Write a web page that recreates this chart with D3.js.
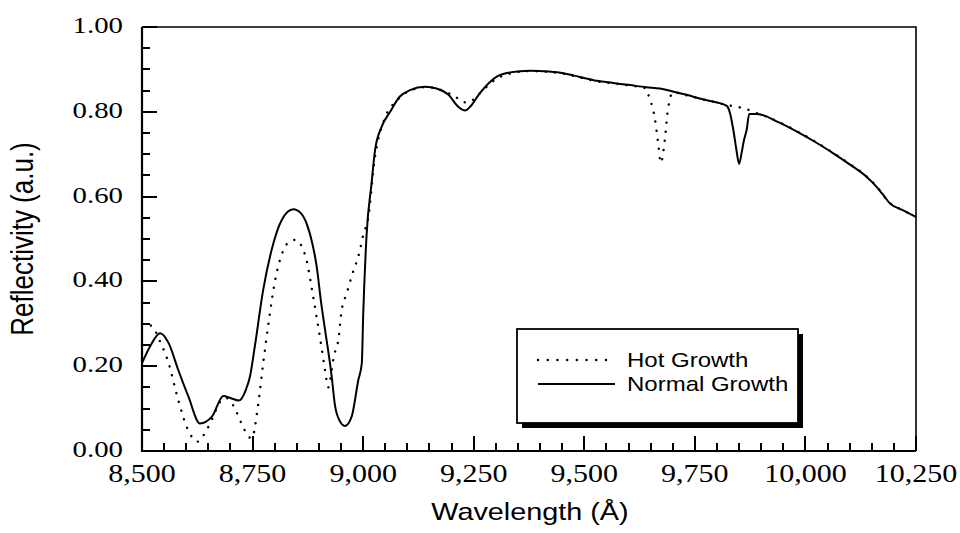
<!DOCTYPE html>
<html>
<head>
<meta charset="utf-8">
<script src="https://cdn.jsdelivr.net/npm/d3@7"></script>
<style>
  body { margin: 0; background: #fff; }
  svg { display: block; }
</style>
</head>
<body>
<svg id="chart" width="960" height="533"></svg>
<script>
// Reflectivity spectra, hot vs normal growth

const normalWl = [8500, 8520, 8541, 8560, 8582, 8605, 8631, 8658, 8684, 8700, 8719, 8735, 8744, 8755,
  8774, 8793, 8816, 8842, 8860, 8872, 8885, 8895, 8905, 8914, 8929, 8936, 8945, 8959, 8974, 8989,
  8997, 9000, 9008, 9019, 9027, 9042, 9061, 9083, 9106, 9140, 9166, 9193, 9215, 9230, 9242, 9264,
  9302, 9332, 9377, 9420, 9453, 9490, 9528, 9565, 9603, 9640, 9671, 9700, 9731, 9770, 9800, 9822,
  9830, 9837, 9844, 9850, 9856, 9861, 9867, 9873, 9890, 9940, 9988, 10025, 10063, 10100, 10138,
  10161, 10175, 10191, 10220, 10250];
const normalR = [0.207, 0.250, 0.278, 0.255, 0.191, 0.128, 0.065, 0.081, 0.130, 0.125, 0.119, 0.145, 0.175, 0.246,
  0.380, 0.474, 0.545, 0.570, 0.560, 0.537, 0.490, 0.435, 0.350, 0.285, 0.175, 0.110, 0.075, 0.059, 0.081, 0.167,
  0.207, 0.317, 0.513, 0.631, 0.710, 0.765, 0.800, 0.836, 0.851, 0.859, 0.855, 0.840, 0.812, 0.803, 0.812, 0.844,
  0.883, 0.893, 0.897, 0.895, 0.891, 0.882, 0.873, 0.868, 0.863, 0.858, 0.855, 0.848, 0.840, 0.829, 0.822, 0.814,
  0.795, 0.757, 0.710, 0.677, 0.705, 0.733, 0.757, 0.795, 0.795, 0.775, 0.749, 0.727, 0.702, 0.676, 0.647,
  0.623, 0.605, 0.584, 0.568, 0.552];

const hotWl = [8500, 8522, 8540, 8559, 8582, 8601, 8615, 8626, 8642, 8661, 8676, 8690, 8706, 8725, 8740,
  8748, 8763, 8774, 8786, 8801, 8820, 8835, 8848, 8860, 8872, 8887, 8902, 8914, 8921, 8926, 8933,
  8945, 8951, 8963, 8976, 8991, 9000, 9012, 9025, 9049, 9075, 9106, 9140, 9166, 9190, 9204, 9223,
  9235, 9248, 9270, 9302, 9332, 9377, 9420, 9453, 9490, 9528, 9565, 9603, 9640, 9645, 9660, 9667,
  9673, 9682, 9688, 9695, 9700, 9731, 9770, 9800, 9822, 9845, 9867, 9890, 9940, 9988, 10025, 10063,
  10100, 10138, 10161, 10191, 10220, 10250];
const hotR = [0.300, 0.295, 0.260, 0.211, 0.120, 0.057, 0.030, 0.022, 0.042, 0.081, 0.115, 0.125, 0.108, 0.065, 0.035,
  0.030, 0.112, 0.207, 0.301, 0.403, 0.474, 0.495, 0.498, 0.485, 0.450, 0.364, 0.270, 0.190, 0.150, 0.170, 0.219,
  0.270, 0.329, 0.372, 0.419, 0.466, 0.509, 0.553, 0.680, 0.785, 0.825, 0.850, 0.858, 0.855, 0.845, 0.840, 0.824,
  0.822, 0.828, 0.850, 0.878, 0.890, 0.896, 0.894, 0.890, 0.881, 0.872, 0.867, 0.862, 0.855, 0.840, 0.781, 0.726,
  0.680, 0.733, 0.796, 0.836, 0.846, 0.839, 0.829, 0.822, 0.816, 0.812, 0.806, 0.797, 0.776, 0.750, 0.728, 0.703,
  0.677, 0.648, 0.624, 0.585, 0.568, 0.553];

const xMajorTicks = [8500, 8750, 9000, 9250, 9500, 9750, 10000, 10250];
const yMajorTicks = [0, 0.2, 0.4, 0.6, 0.8, 1.0];
const seriesNames = ["Hot Growth", "Normal Growth"];

const SERIF = "'Liberation Serif', 'Times New Roman', serif";
const SANS = "'Liberation Sans', Arial, Helvetica, sans-serif";
const STRETCH = 1.2; // the scanned figure is widened horizontally

const plot = {left: 142, right: 916, top: 27, bottom: 451};

const svg = d3.select('#chart');

const x = d3.scaleLinear().domain([8500, 10250]).range([plot.left, plot.right]);
const y = d3.scaleLinear().domain([0, 1]).range([plot.bottom, plot.top]);

// tick labels
const fmtX = d3.format(',');
const fmtY = d3.format('.2f');

svg.append('g').selectAll('text')
    .data(xMajorTicks)
    .join('text')
    .attr('transform', d => `translate(${x(d)},482) scale(${STRETCH},1)`)
    .attr('text-anchor', 'middle')
    .style('font-family', SERIF).style('font-size', '25px')
    .text(d => fmtX(d));

svg.append('g').selectAll('text')
    .data(yMajorTicks)
    .join('text')
    .attr('transform', d => `translate(123,${y(d) + 6}) scale(${STRETCH},1)`)
    .attr('text-anchor', 'end')
    .style('font-family', SERIF).style('font-size', '24px')
    .text(d => fmtY(d));

// Lines
const line = d3.line()
    .x(d => x(d[0]))
    .y(d => y(d[1]))
    .curve(d3.curveMonotoneX);

svg.append('path')
    .datum(hotWl.map((w, i) => [w, hotR[i]]))
    .attr('fill', 'none')
    .attr('stroke', '#000')
    .attr('stroke-width', 2.4)
    .attr('stroke-linecap', 'round')
    .attr('stroke-dasharray', '0.1 9')
    .attr('d', line);

svg.append('path')
    .datum(normalWl.map((w, i) => [w, normalR[i]]))
    .attr('fill', 'none')
    .attr('stroke', '#000')
    .attr('stroke-width', 2)
    .attr('stroke-linejoin', 'round')
    .attr('d', line);

// Frame (top + right)
svg.append('path')
    .attr('d', `M${plot.left},${plot.top}H${plot.right}V${plot.bottom}`)
    .attr('fill', 'none').attr('stroke', '#000').attr('stroke-width', 1.6);

// Ticks: minor every 50 A and every 0.05, pointing inward
const xTicks = d3.range(0, 36).map(i => ({v: 8500 + i * 50, major: i % 5 === 0}));
const yTicks = d3.range(0, 21).map(i => ({v: i * 0.05, major: i % 4 === 0}));

svg.append('g').selectAll('rect')
    .data(xTicks)
    .join('rect')
    .attr('x', d => Math.round(x(d.v)) - 1)
    .attr('y', d => plot.bottom - (d.major ? 15 : 8))
    .attr('width', 2)
    .attr('height', d => d.major ? 15 : 8)
    .attr('fill', '#000');

svg.append('g').selectAll('rect')
    .data(yTicks)
    .join('rect')
    .attr('x', plot.left)
    .attr('y', d => Math.round(y(d.v)) - 1)
    .attr('width', d => d.major ? 15 : 8)
    .attr('height', 2)
    .attr('fill', '#000');

// axis lines (left + bottom)
svg.append('path')
    .attr('d', `M${plot.left},${plot.top}V${plot.bottom}H${plot.right}`)
    .attr('fill', 'none')
    .attr('stroke', '#000')
    .attr('stroke-width', 2.2);

// Axis titles
svg.append('text')
    .attr('transform', `translate(530,520) scale(${STRETCH},1)`)
    .attr('text-anchor', 'middle')
    .style('font-family', SANS).style('font-size', '24px')
    .text('Wavelength (Å)');

svg.append('text')
    .attr('transform', `translate(33,${(plot.top + plot.bottom) / 2}) rotate(-90) scale(1,${STRETCH})`)
    .attr('text-anchor', 'middle')
    .style('font-family', SANS).style('font-size', '26px')
    .text('Reflectivity (a.u.)');

// Legend with drop shadow
const legend = svg.append('g').attr('transform', 'translate(517,329)');
legend.append('rect').attr('x', 5).attr('y', 5).attr('width', 281).attr('height', 94).attr('fill', '#000');
legend.append('rect').attr('width', 281).attr('height', 94)
    .attr('fill', '#fff').attr('stroke', '#000').attr('stroke-width', 1.8);

seriesNames.forEach((name, i) => {
    const ly = 31 + i * 24;
    const seg = legend.append('line')
        .attr('x1', 21).attr('x2', 98).attr('y1', ly).attr('y2', ly)
        .attr('stroke', '#000');
    if (i === 0) {
        seg.attr('stroke-width', 2.4).attr('stroke-linecap', 'round').attr('stroke-dasharray', '0.1 9.6');
    } else {
        seg.attr('stroke-width', 1.8);
    }
    legend.append('text')
        .attr('transform', `translate(110,${ly + 7}) scale(${STRETCH},1)`)
        .style('font-family', SANS).style('font-size', '20px')
        .text(name);
});
</script>
</body>
</html>
